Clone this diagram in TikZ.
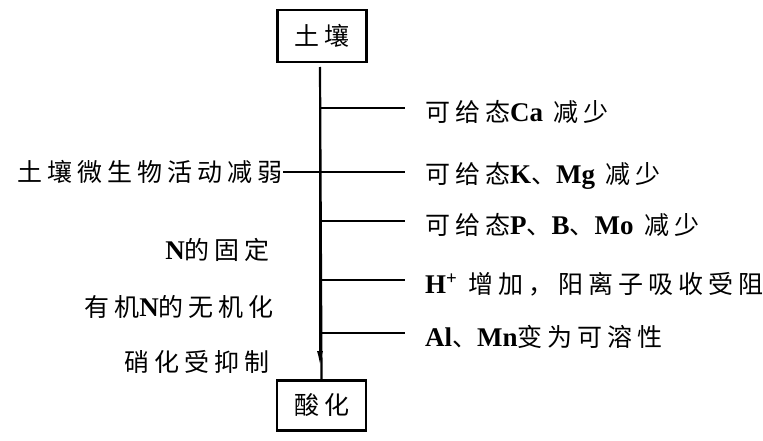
\documentclass[tikz,border=0pt]{standalone}
\usepackage{fontspec}
\setmainfont{Liberation Serif}
\newfontfamily\cjk[LetterSpace=20]{Noto Sans CJK SC}
\usetikzlibrary{arrows.meta}
\newcommand\lat[1]{{\rmfamily\bfseries\fontsize{27}{28}\selectfont #1}}

\tikzset{
    boxnode/.style={draw, line width=2.4pt, minimum width=89pt, minimum height=52pt, inner sep=0pt, font=\cjk\fontsize{25}{28}\selectfont},
    itemtext/.style={inner sep=0pt, font=\cjk\fontsize{25}{28}\selectfont},
    tick/.style={line width=1.8pt}
}

\begin{document}
\begin{tikzpicture}[x=1pt,y=-1pt]
        \useasboundingbox (0,0) rectangle (763,441);
        \node[boxnode] (soil) at (322,36) {土壤};
        \node[boxnode, minimum height=50pt] (acid) at (321.5,405.5) {酸化};
        \coordinate (top) at (320,67);
        \coordinate (tip) at (320,367);
        \draw[line width=2.2pt] (top) -- (acid.north);
        \draw[line width=2.2pt, -{Latex[length=16pt,width=6pt]}] (top) -- (tip);
        % effects on the right
        \foreach \i/\y/\labeltext in {1/108/{可给态\lat{Ca} 减少}, 2/172/{可给态\lat{K}、\lat{Mg} 减少}, 3/221/{可给态\lat{P}、\lat{B}、\lat{Mo} 减少}, 4/280/{\lat{H\textsuperscript{+}} 增加，阳离子吸收受阻}, 5/333/{\lat{Al}、\lat{Mn}变为可溶性}}{
            \coordinate (s\i) at (320,\y);
            \node[itemtext, anchor=west] (r\i) at (425,\y+4) {\labeltext};
            \draw[tick, shorten >=20pt] (s\i) -- (s\i -| r\i.west);
        }
        % causes on the left
        \node[itemtext, anchor=east] (l0) at (283,172) {土壤微生物活动减弱};
        \draw[tick] (s2) -- (l0.east);
        \node[itemtext, anchor=east] (l1) at (270,250) {\lat{N}的固定};
        \node[itemtext, anchor=east] (l2) at (274,307) {有机\lat{N}的无机化};
        \node[itemtext, anchor=east] (l3) at (270,362) {硝化受抑制};
    \end{tikzpicture}
\end{document}
